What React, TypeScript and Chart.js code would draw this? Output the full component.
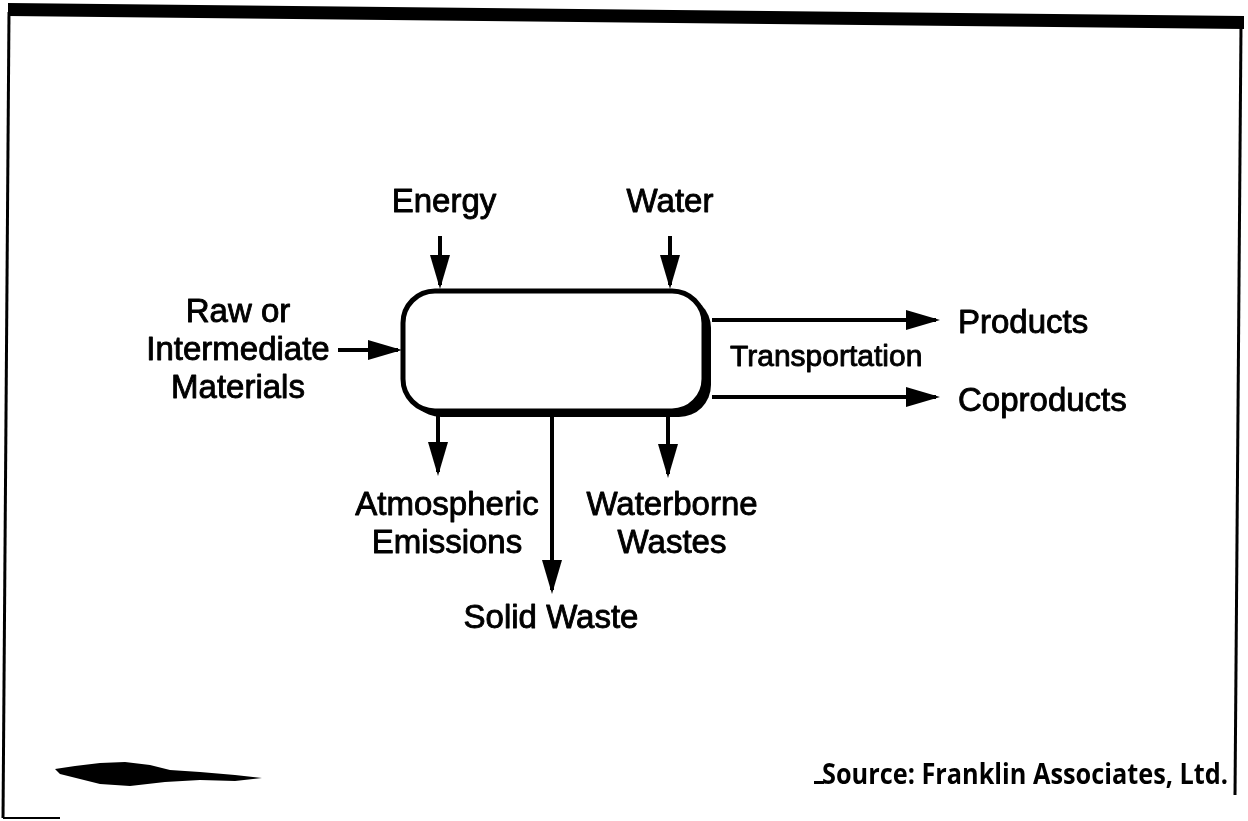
import React, { useEffect, useRef } from "react";
import { Chart, registerables } from "chart.js";
Chart.register(...registerables);

const W = 1248;
const H = 821;

// Flow arrows (in diagram units = page pixels)
const arrowNames = ["Energy", "Water", "Raw", "Products", "Coproducts", "Atmospheric", "Solid", "Waterborne"];
const arrowX0 = [440, 670, 338, 712, 712, 438, 552, 668];
const arrowY0 = [236, 236, 350, 320, 397, 416, 416, 416];
const arrowX1 = [440, 670, 398, 936, 936, 438, 552, 668];
const arrowY1 = [285, 285, 350, 320, 397, 472, 590, 474];

// Process box
const boxLeft = 403;
const boxTop = 291;
const boxRight = 704;
const boxBottom = 411;

// Text labels
const labelLines = [
  ["Energy"],
  ["Water"],
  ["Raw or", "Intermediate", "Materials"],
  ["Products"],
  ["Coproducts"],
  ["Atmospheric", "Emissions"],
  ["Solid Waste"],
  ["Waterborne", "Wastes"],
  ["Transportation"],
];
const labelX = [444, 670, 238, 958, 958, 447, 551, 672, 730];
const labelY = [212, 212, 322, 333, 411, 515, 628, 515, 366];
const labelAlign = ["center", "center", "center", "left", "left", "center", "center", "center", "left"];
const labelSize = [33, 33, 33, 33, 33, 33, 33, 33, 30];

const sourceText = "Source: Franklin Associates, Ltd.";

export default function App() {
  const ref = useRef<HTMLCanvasElement>(null);

  useEffect(() => {
    if (!ref.current) return;
    const datasets = arrowNames.map((name, i) => ({
      label: name,
      data: [
        { x: arrowX0[i], y: arrowY0[i] },
        { x: arrowX1[i], y: arrowY1[i] },
      ],
      showLine: true,
      borderColor: "#000",
      backgroundColor: "#000",
      borderWidth: 4,
      pointRadius: 0,
      pointHoverRadius: 0,
      fill: false,
    }));

    const plugin = {
      id: "diagram",
      beforeDatasetsDraw(chart: any) {
        const ctx = chart.ctx;
        const sx = chart.scales.x;
        const sy = chart.scales.y;
        const px = (v: number) => sx.getPixelForValue(v);
        const py = (v: number) => sy.getPixelForValue(v);
        ctx.save();
        ctx.fillStyle = "#fff";
        ctx.fillRect(0, 0, chart.width, chart.height);
        // frame
        ctx.fillStyle = "#000";
        ctx.beginPath();
        ctx.moveTo(px(8), py(3));
        ctx.lineTo(px(1244), py(16));
        ctx.lineTo(px(1244), py(29));
        ctx.lineTo(px(8), py(16));
        ctx.closePath();
        ctx.fill();
        ctx.strokeStyle = "#000";
        ctx.lineWidth = 3;
        ctx.beginPath();
        ctx.moveTo(px(9), py(12));
        ctx.lineTo(px(3), py(818));
        ctx.stroke();
        ctx.lineWidth = 2;
        ctx.beginPath();
        ctx.moveTo(px(3), py(818));
        ctx.lineTo(px(60), py(818));
        ctx.stroke();
        ctx.lineWidth = 3;
        ctx.beginPath();
        ctx.moveTo(px(1241), py(25));
        ctx.lineTo(px(1235), py(795));
        ctx.stroke();

        // smudge
        ctx.beginPath();
        const sm = [
          [55, 769], [75, 766], [100, 763], [125, 762], [150, 765], [170, 770], [200, 772],
          [235, 775], [262, 778], [235, 781], [200, 780], [165, 782], [130, 786], [100, 784],
          [80, 779], [60, 774],
        ];
        sm.forEach((p, i) => (i === 0 ? ctx.moveTo(px(p[0]), py(p[1])) : ctx.lineTo(px(p[0]), py(p[1]))));
        ctx.closePath();
        ctx.fill();

        // box shadow + box
        const r = 32;
        const rr = (l: number, t: number, rt: number, b: number) => {
          ctx.beginPath();
          ctx.roundRect(px(l), py(t), px(rt) - px(l), py(b) - py(t), r);
        };
        ctx.fillStyle = "#000";
        rr(boxLeft + 6, boxTop + 5, boxRight + 7, boxBottom + 6);
        ctx.fill();
        ctx.fillStyle = "#fff";
        rr(boxLeft, boxTop, boxRight, boxBottom);
        ctx.fill();
        ctx.lineWidth = 5;
        ctx.strokeStyle = "#000";
        ctx.stroke();
        ctx.restore();
      },
      afterDatasetsDraw(chart: any) {
        const ctx = chart.ctx;
        const sx = chart.scales.x;
        const sy = chart.scales.y;
        const px = (v: number) => sx.getPixelForValue(v);
        const py = (v: number) => sy.getPixelForValue(v);
        ctx.save();
        ctx.fillStyle = "#000";
        ctx.strokeStyle = "#000";
        // arrow heads
        for (let i = 0; i < arrowX0.length; i++) {
          const x0 = px(arrowX0[i]), y0 = py(arrowY0[i]);
          const x1 = px(arrowX1[i]), y1 = py(arrowY1[i]);
          const dx = x1 - x0, dy = y1 - y0;
          const len = Math.hypot(dx, dy);
          const ux = dx / len, uy = dy / len;
          const tipX = x1 + ux * 4, tipY = y1 + uy * 4;
          const hl = 34, hw = 10;
          const bx = tipX - ux * hl, by = tipY - uy * hl;
          ctx.beginPath();
          ctx.moveTo(tipX, tipY);
          ctx.lineTo(bx - uy * hw, by + ux * hw);
          ctx.lineTo(bx + uy * hw, by - ux * hw);
          ctx.closePath();
          ctx.fill();
        }
        // labels
        ctx.textBaseline = "alphabetic";
        ctx.lineWidth = 0.9;
        ctx.lineJoin = "round";
        for (let i = 0; i < labelLines.length; i++) {
          ctx.font = `${labelSize[i]}px "Liberation Sans", Arial, sans-serif`;
          ctx.textAlign = labelAlign[i];
          labelLines[i].forEach((line, j) => {
            const tx = px(labelX[i]);
            const ty = py(labelY[i] + j * 38);
            ctx.fillText(line, tx, ty);
            ctx.strokeText(line, tx, ty);
          });
        }
        // source
        ctx.font = `bold 28px "Open Sans", sans-serif`;
        ctx.textAlign = "left";
        const target = 406;
        const w = ctx.measureText(sourceText).width;
        ctx.save();
        ctx.translate(px(822), py(784));
        ctx.scale(target / w, 1);
        ctx.fillText(sourceText, 0, 0);
        ctx.restore();
        ctx.fillRect(px(814), py(781), 10, 3);
        ctx.restore();
      },
    };

    const chart = new Chart(ref.current, {
      type: "scatter",
      data: { datasets },
      options: {
        animation: false,
        responsive: false,
        events: [],
        layout: { padding: 0 },
        plugins: { legend: { display: false }, tooltip: { enabled: false } },
        scales: {
          x: { type: "linear", min: 0, max: W, display: false },
          y: { type: "linear", min: 0, max: H, reverse: true, display: false },
        },
      },
      plugins: [plugin],
    } as any);
    return () => chart.destroy();
  }, []);

  return (
    <canvas
      ref={ref}
      width={W}
      height={H}
      style={{ position: "fixed", left: 0, top: 0, width: W, height: H, display: "block" }}
    />
  );
}
